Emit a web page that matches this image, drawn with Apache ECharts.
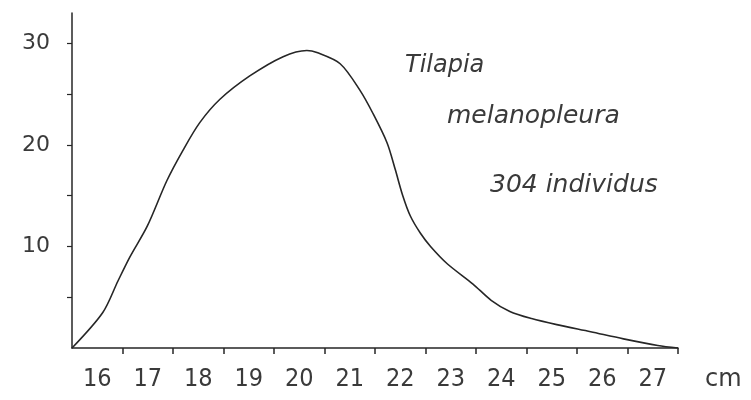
<!DOCTYPE html>
<html>
<head>
<meta charset="utf-8">
<script src="https://cdn.jsdelivr.net/npm/echarts@6/dist/echarts.min.js"></script>
<style>
html,body{margin:0;padding:0;background:#fff;}
#c{width:751px;height:400px;}
</style>
</head>
<body>
<div id="c"></div>
<script>
// Length (cm) and number of individuals
var lengthCm = [15.5, 16.11, 16.41, 16.65, 16.99, 17.38, 17.70, 18.03, 18.43, 19.02, 19.68, 20.15, 20.35, 20.81, 21.20, 21.46, 21.74, 21.90, 22.05, 22.20, 22.40, 22.60, 22.93, 23.44, 23.80, 24.17, 24.60, 25.10, 25.77, 26.42, 27.10, 27.50];
var individuals = [0, 3.5, 6.6, 9.0, 12.0, 16.5, 19.5, 22.2, 24.5, 26.8, 28.7, 29.3, 29.1, 28.0, 25.4, 23.1, 20.2, 17.6, 15.0, 13.0, 11.3, 10.0, 8.3, 6.3, 4.7, 3.6, 2.9, 2.3, 1.6, 0.9, 0.25, 0];
var xLabelValues = [16, 17, 18, 19, 20, 21, 22, 23, 24, 25, 26, 27];
var xTickValues = [16.5, 17.5, 18.5, 19.5, 20.5, 21.5, 22.5, 23.5, 24.5, 25.5, 26.5, 27.5];
var yLabelValues = [10, 20, 30];
var yTickValues = [5, 10, 15, 20, 25, 30];
var noteLines = ['Tilapia', 'melanopleura', '304 individus'];
var unitLabel = 'cm';

var points = lengthCm.map(function (x, i) { return [x, individuals[i]]; });
var ink = '#262626';
var txt = '#3a3a3a';

var chart = echarts.init(document.getElementById('c'), null, {renderer: 'canvas'});
chart.setOption({
  backgroundColor: '#fff',
  animation: false,
  grid: {left: 72, right: 73, top: 13, bottom: 52},
  xAxis: {
    type: 'value', min: 15.5, max: 27.5,
    splitLine: {show: false},
    axisLine: {show: true, lineStyle: {color: ink, width: 1.5}},
    axisTick: {show: true, length: 6, inside: false, customValues: xTickValues, lineStyle: {color: ink, width: 1.5}},
    axisLabel: {
      customValues: xLabelValues, margin: 19, color: txt,
      fontFamily: "'Liberation Sans Narrow', 'DejaVu Sans Condensed', sans-serif", fontSize: 25,
      formatter: function (v) { return String(v); }
    }
  },
  yAxis: {
    type: 'value', min: 0, max: 33,
    splitLine: {show: false},
    axisLine: {show: true, lineStyle: {color: ink, width: 1.5}},
    axisTick: {show: true, length: 5, customValues: yTickValues, lineStyle: {color: ink, width: 1.2}},
    axisLabel: {
      customValues: yLabelValues, margin: 22, color: txt,
      fontFamily: "'DejaVu Sans', sans-serif", fontSize: 22,
      formatter: function (v) { return String(v); }
    }
  },
  series: [{
    type: 'line',
    data: points,
    smooth: 0.3,
    showSymbol: false,
    lineStyle: {color: ink, width: 1.6}
  }],
  graphic: [
    {type: 'text', left: 405, top: 54, style: {text: noteLines[0], fill: txt, font: "italic 24px 'DejaVu Sans', sans-serif"}},
    {type: 'text', left: 447, top: 104, style: {text: noteLines[1], fill: txt, font: "italic 25px 'DejaVu Sans', sans-serif"}},
    {type: 'text', left: 490, top: 173, style: {text: noteLines[2], fill: txt, font: "italic 25px 'DejaVu Sans', sans-serif"}},
    {type: 'text', left: 705, top: 368, style: {text: unitLabel, fill: txt, font: "24px 'DejaVu Sans', sans-serif"}}
  ]
});
</script>
</body>
</html>
